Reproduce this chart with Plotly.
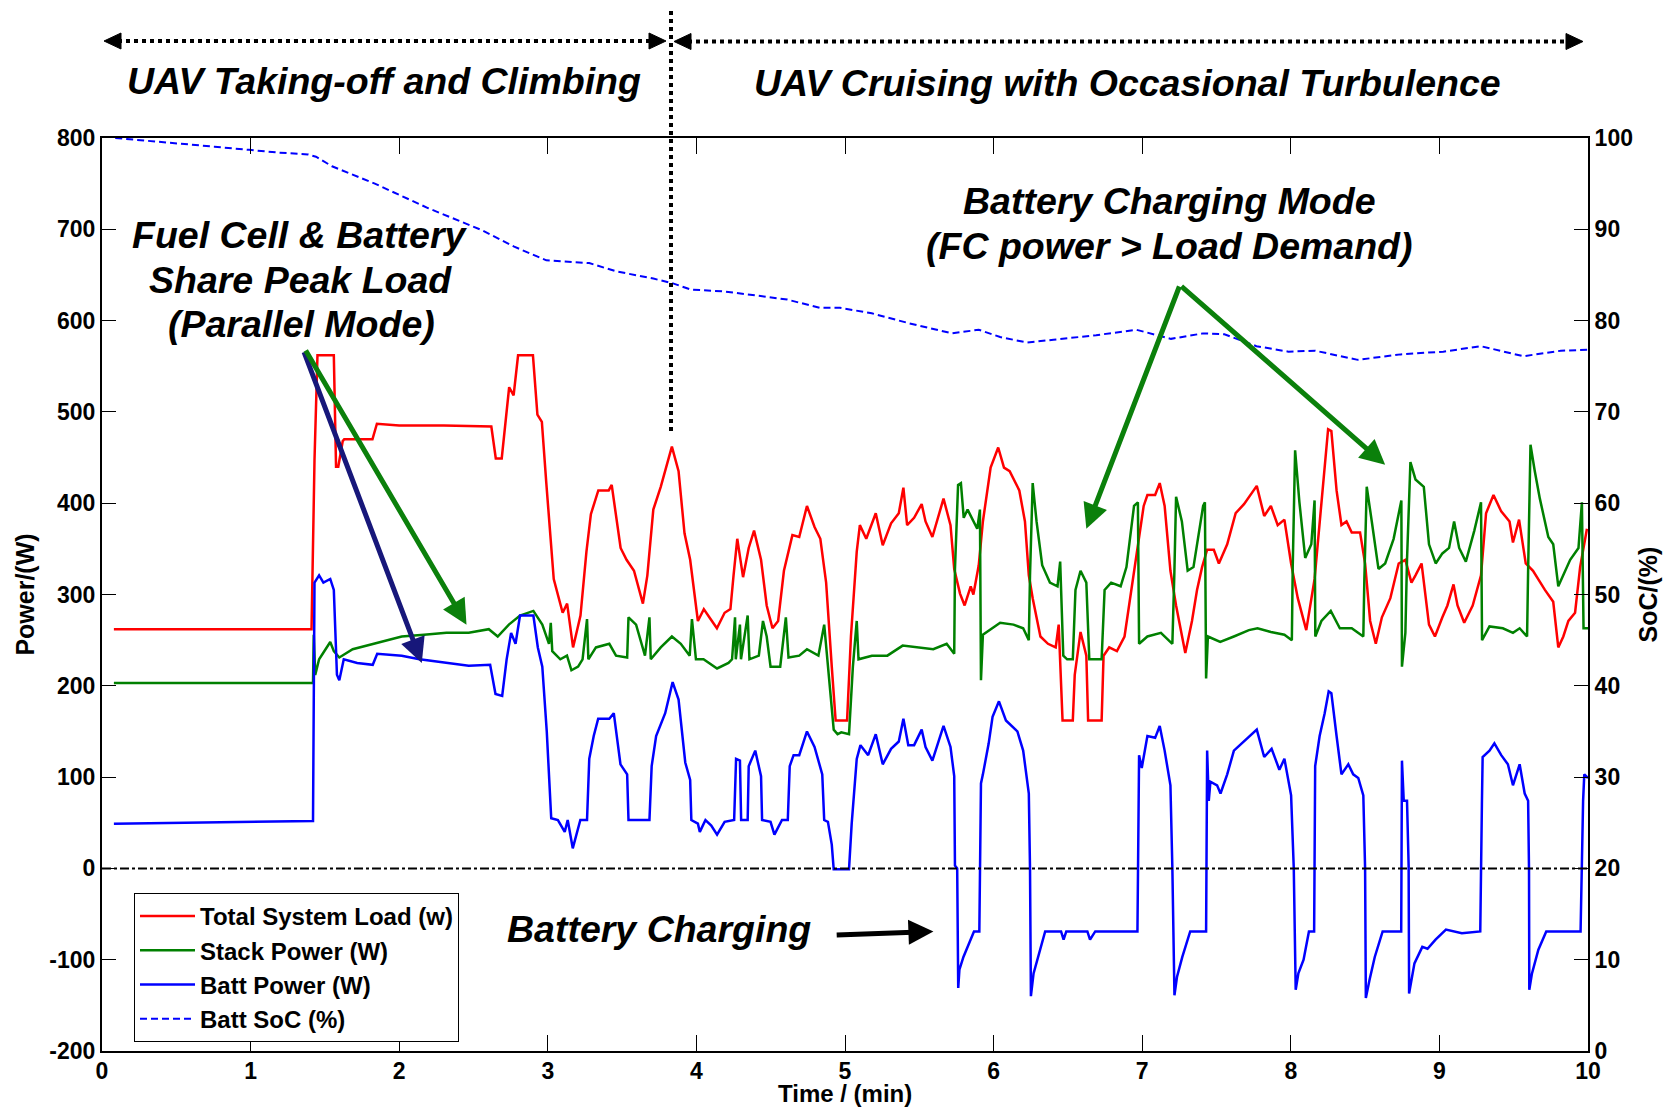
import plotly.graph_objects as go

# ---- data (time in min) ----
load_t = [0.08, 1.41, 1.43, 1.45, 1.56, 1.575, 1.59, 1.62, 1.63, 1.82, 1.85, 2.0, 2.3, 2.62, 2.65, 2.69, 2.74, 2.77,
          2.80, 2.90, 2.93, 2.96, 2.99, 3.04, 3.10, 3.13, 3.17, 3.22, 3.26, 3.29, 3.34, 3.41, 3.43, 3.49, 3.53, 3.58,
          3.64, 3.67, 3.71, 3.76, 3.835, 3.88, 3.92, 3.958, 4.01, 4.05, 4.087, 4.138, 4.19, 4.229, 4.25, 4.275, 4.314,
          4.352, 4.388, 4.435, 4.473, 4.512, 4.55, 4.589, 4.646, 4.692, 4.744, 4.795, 4.834, 4.873, 4.911, 4.937,
          5.014, 5.04, 5.079, 5.1, 5.143, 5.207, 5.254, 5.31, 5.362, 5.393, 5.418, 5.465, 5.516, 5.542, 5.588, 5.663,
          5.71, 5.735, 5.774, 5.805, 5.846, 5.864, 5.9, 5.928, 5.98, 6.031, 6.07, 6.108, 6.173, 6.211, 6.237, 6.263,
          6.315, 6.366, 6.418, 6.438, 6.464, 6.533, 6.546, 6.585, 6.624, 6.636, 6.727, 6.74, 6.778, 6.83, 6.881,
          6.933, 6.971, 7.01, 7.035, 7.087, 7.118, 7.151, 7.19, 7.228, 7.29, 7.335, 7.369, 7.403, 7.437, 7.482,
          7.516, 7.572, 7.629, 7.685, 7.771, 7.821, 7.866, 7.912, 7.957, 8.002, 8.047, 8.104, 8.16, 8.206, 8.251,
          8.273, 8.308, 8.341, 8.375, 8.41, 8.466, 8.5, 8.534, 8.572, 8.613, 8.67, 8.726, 8.771, 8.812, 8.839, 8.88,
          8.93, 8.97, 9.02, 9.054, 9.095, 9.122, 9.167, 9.224, 9.28, 9.314, 9.364, 9.416, 9.472, 9.495, 9.536,
          9.581, 9.63, 9.676, 9.71, 9.766, 9.8, 9.834, 9.868, 9.913, 9.947, 9.993]
load_w = [262, 262, 447, 562, 562, 440, 440, 468, 470, 470, 487, 485, 485, 484, 449, 449, 527, 518,
          562, 562, 497, 489, 422, 317, 280, 290, 242, 277, 347, 388, 414, 414, 420, 351, 338, 326,
          290, 321, 393, 418, 462, 435, 367, 338, 271, 284, 275, 263, 280, 284, 321, 361, 319,
          351, 370, 338, 288, 263, 271, 326, 365, 363, 397, 374, 361, 313, 221, 162,
          162, 254, 347, 376, 361, 389, 354, 378, 389, 417, 376, 384, 399, 380, 363, 405,
          376, 328, 301, 288, 309, 300, 332, 380, 439, 461, 439, 435, 414, 380, 321, 296,
          254, 246, 242, 267, 162, 162, 212, 259, 233, 162, 162, 233, 242, 238, 254,
          313, 355, 397, 409, 409, 422, 397, 326, 288, 236, 271, 305, 330, 349, 349,
          334, 355, 389, 399, 419, 386, 397, 376, 382, 334, 296, 261, 317, 401, 481,
          479, 414, 376, 380, 368, 368, 334, 271, 246, 275, 296, 334, 338, 313, 321, 334,
          267, 254, 275, 288, 311, 288, 269, 288, 321, 389, 409, 391, 380, 357, 382,
          334, 326, 313, 305, 292, 242, 254, 271, 280, 330, 372]

stack_t = [0.08, 1.42, 1.425, 1.435, 1.461, 1.536, 1.56, 1.597, 1.687, 1.867, 2.017, 2.167, 2.318, 2.468, 2.603,
           2.663, 2.738, 2.813, 2.903, 2.963, 3.008, 3.02, 3.03, 3.084, 3.129, 3.159, 3.204, 3.234, 3.264, 3.273,
           3.324, 3.414, 3.459, 3.534, 3.543, 3.594, 3.639, 3.654, 3.684, 3.693, 3.76, 3.835, 3.895, 3.955, 3.97,
           3.997, 4.048, 4.139, 4.216, 4.24, 4.26, 4.265, 4.293, 4.30, 4.345, 4.357, 4.42, 4.448, 4.473, 4.499,
           4.564, 4.602, 4.62, 4.692, 4.744, 4.821, 4.86, 4.885, 4.924, 4.95, 4.975, 5.027, 5.053, 5.079, 5.091,
           5.181, 5.285, 5.388, 5.491, 5.594, 5.684, 5.735, 5.74, 5.761, 5.78, 5.799, 5.825, 5.864, 5.89, 5.908,
           5.915, 5.928, 6.005, 6.044, 6.134, 6.199, 6.237, 6.245, 6.263, 6.289, 6.327, 6.379, 6.43, 6.448, 6.469,
           6.495, 6.533, 6.551, 6.585, 6.624, 6.644, 6.727, 6.747, 6.791, 6.855, 6.894, 6.945, 6.971, 6.979, 7.035,
           7.126, 7.203, 7.216, 7.228, 7.267, 7.306, 7.345, 7.41, 7.422, 7.43, 7.442, 7.525, 7.617, 7.718, 7.776,
           7.866, 7.957, 8.007, 8.013, 8.029, 8.058, 8.097, 8.138, 8.16, 8.165, 8.206, 8.269, 8.33, 8.41, 8.488,
           8.495, 8.511, 8.545, 8.59, 8.635, 8.692, 8.744, 8.748, 8.771, 8.782, 8.805, 8.839, 8.895, 8.93, 8.975,
           9.02, 9.065, 9.099, 9.133, 9.178, 9.235, 9.28, 9.287, 9.337, 9.427, 9.495, 9.54, 9.59, 9.597, 9.613,
           9.642, 9.676, 9.733, 9.766, 9.8, 9.845, 9.88, 9.936, 9.959, 9.97, 10.0]
stack_w = [203, 203, 256, 212, 229, 248, 238, 231, 240, 248, 254, 256, 258, 258, 262,
           254, 267, 277, 282, 267, 246, 269, 238, 229, 233, 217, 221, 229, 273, 229,
           242, 246, 233, 231, 275, 267, 242, 233, 275, 229, 242, 254, 246, 233, 273,
           229, 229, 219, 225, 229, 275, 229, 267, 229, 277, 229, 233, 271, 254, 221,
           221, 275, 231, 233, 240, 233, 267, 221, 152, 147, 149, 147, 221, 271, 229,
           233, 233, 244, 242, 240, 246, 235, 328, 420, 422, 384, 393, 380, 372, 393,
           206, 256, 265, 269, 267, 263, 250, 321, 422, 380, 332, 313, 309, 336, 233,
           229, 229, 305, 326, 313, 229, 229, 305, 313, 309, 330, 397, 401, 246, 254,
           258, 246, 321, 407, 380, 326, 330, 397, 401, 208, 254, 248, 254, 261, 263,
           259, 256, 250, 330, 458, 401, 340, 355, 403, 254, 271, 282, 263, 263, 254,
           317, 418, 380, 328, 334, 361, 403, 221, 258, 338, 445, 426, 418, 355, 334,
           345, 351, 380, 351, 336, 370, 401, 250, 265, 263, 258, 263, 254, 326, 464,
           435, 405, 363, 355, 309, 326, 338, 351, 401, 263, 263]

batt_t = [0.08, 1.42, 1.43, 1.461, 1.49, 1.536, 1.56, 1.581, 1.597, 1.627, 1.717, 1.822, 1.852, 2.017, 2.137,
          2.318, 2.468, 2.612, 2.648, 2.693, 2.723, 2.753, 2.783, 2.813, 2.903, 2.933, 2.963, 2.993, 3.023, 3.068,
          3.114, 3.134, 3.168, 3.219, 3.264, 3.279, 3.309, 3.339, 3.414, 3.444, 3.489, 3.534, 3.543, 3.684, 3.699,
          3.729, 3.79, 3.84, 3.88, 3.925, 3.958, 3.966, 4.01, 4.023, 4.061, 4.1, 4.139, 4.19, 4.254, 4.267, 4.293,
          4.301, 4.345, 4.352, 4.396, 4.435, 4.442, 4.499, 4.525, 4.576, 4.615, 4.628, 4.654, 4.692, 4.744, 4.795,
          4.847, 4.86, 4.885, 4.911, 4.924, 5.027, 5.045, 5.079, 5.104, 5.156, 5.207, 5.254, 5.31, 5.362, 5.393,
          5.426, 5.465, 5.516, 5.542, 5.588, 5.663, 5.71, 5.735, 5.74, 5.755, 5.762, 5.77, 5.797, 5.833, 5.868,
          5.904, 5.911, 5.915, 5.928, 5.967, 5.993, 6.036, 6.083, 6.16, 6.199, 6.237, 6.245, 6.251, 6.269, 6.312,
          6.347, 6.454, 6.471, 6.489, 6.631, 6.649, 6.684, 6.968, 6.975, 6.979, 6.997, 7.035, 7.087, 7.118, 7.151,
          7.19, 7.203, 7.217, 7.234, 7.27, 7.323, 7.43, 7.437, 7.448, 7.459, 7.504, 7.527, 7.572, 7.617, 7.685,
          7.771, 7.821, 7.871, 7.923, 7.957, 8.002, 8.02, 8.033, 8.051, 8.086, 8.122, 8.157, 8.164, 8.194, 8.228,
          8.255, 8.273, 8.308, 8.341, 8.387, 8.42, 8.454, 8.488, 8.5, 8.505, 8.53, 8.565, 8.618, 8.743, 8.748,
          8.76, 8.782, 8.793, 8.796, 8.832, 8.885, 8.92, 8.974, 9.044, 9.151, 9.275, 9.286, 9.291, 9.337, 9.37,
          9.416, 9.461, 9.495, 9.54, 9.574, 9.597, 9.603, 9.605, 9.623, 9.666, 9.719, 9.95, 9.967, 9.975, 10.0]
batt_w = [49, 52, 313, 321, 313, 317, 305, 212, 206, 229, 225, 223, 235, 233, 229,
          225, 222, 223, 191, 189, 229, 258, 246, 277, 277, 242, 221, 150, 55, 53,
          40, 53, 22, 53, 53, 120, 145, 164, 164, 170, 114, 103, 53, 53, 112,
          145, 170, 204, 185, 116, 97, 53, 49, 40, 53, 47, 37, 51, 53, 120, 118,
          53, 53, 112, 129, 101, 53, 51, 37, 53, 53, 112, 124, 124, 150, 133,
          103, 53, 51, 26, -1, -1, 49, 120, 135, 124, 147, 114, 131, 139, 164,
          135, 135, 152, 133, 118, 156, 133, 101, 3, 0, -131, -111, -97, -82, -69,
          -69, 70, 93, 103, 137, 166, 183, 162, 150, 129, 82, 0, -140, -115, -89,
          -69, -69, -78, -69, -69, -78, -69, -69, 74, 124, 110, 145, 143, 156, 129,
          91, 0, -139, -119, -97, -69, -69, 129, 74, 95, 91, 82, 103, 129, 139,
          152, 122, 131, 108, 120, 80, 0, -133, -115, -100, -69, -69, 112, 145, 170,
          194, 192, 145, 103, 114, 103, 99, 80, 0, -142, -122, -97, -69, -69, 118,
          74, 74, 3, -137, -104, -86, -88, -78, -67, -71, -69, 70, 122, 129, 137,
          124, 114, 91, 114, 82, 74, 0, -133, -115, -89, -69, -69, 74, 103, 99]

soc_t = [0.089, 0.395, 0.756, 0.99, 1.188, 1.386, 1.44, 1.548, 1.836, 2.197, 2.557, 2.774, 2.99, 3.279, 3.459,
         3.71, 3.837, 3.963, 4.18, 4.432, 4.612, 4.83, 4.966, 5.18, 5.433, 5.72, 5.9, 6.044, 6.224, 6.403, 6.69,
         6.96, 7.194, 7.409, 7.553, 7.769, 7.984, 8.164, 8.451, 8.739, 9.026, 9.278, 9.565, 9.817, 9.996]
soc_pct = [100, 99.6, 99.05, 98.7, 98.4, 98.2, 97.95, 96.9, 95.0, 92.3, 89.9, 88.1, 86.6, 86.3, 85.4,
           84.6, 84.1, 83.4, 83.2, 82.7, 82.3, 81.4, 81.4, 80.8, 79.7, 78.6, 79.0, 78.2, 77.6, 77.9, 78.4,
           79.0, 78.0, 78.6, 78.5, 77.2, 76.6, 76.7, 75.7, 76.3, 76.6, 77.2, 76.1, 76.7, 76.8]

power_ticks = list(range(-200, 801, 100))
soc_ticks = list(range(0, 101, 10))
time_ticks = list(range(0, 11))

# arrows: (tail t, tail W, tip t, tip W, colour)
arrows = [
    (1.356, 567, 2.152, 225, "#17177a"),
    (1.365, 569, 2.453, 267, "#0b800b"),
    (7.254, 639, 6.624, 372, "#0b800b"),
    (7.254, 639, 8.635, 442, "#0b800b"),
    (4.934, -73, 5.595, -69, "black"),
]

# ---- geometry: page has an 8px body margin, so the figure is shrunk by 16px ----
OFF = 8
W, H = 1677 - 2 * OFF, 1116 - 2 * OFF
PL, PR, PT, PB = 102, 1588, 138, 1051          # plot area in screen pixels
def px(x): return (x - PL) / (PR - PL)
def py(y): return (PB - y) / (PB - PT)

FONT = "Liberation Sans, Arial, sans-serif"
LW = 2.5

fig = go.Figure()
fig.add_trace(go.Scatter(x=load_t, y=load_w, mode="lines", name="Total System Load (w)",
                         line=dict(color="#ff0000", width=LW)))
fig.add_trace(go.Scatter(x=stack_t, y=stack_w, mode="lines", name="Stack Power (W)",
                         line=dict(color="#008000", width=LW)))
fig.add_trace(go.Scatter(x=batt_t, y=batt_w, mode="lines", name="Batt Power (W)",
                         line=dict(color="#0000ff", width=LW)))
fig.add_trace(go.Scatter(x=soc_t, y=soc_pct, mode="lines", name="Batt SoC (%)", yaxis="y2",
                         line=dict(color="#0000ff", width=2, dash="7px,4px")))

# zero reference line
fig.add_shape(type="line", xref="x", yref="y", x0=0, x1=10, y0=0, y1=0,
              line=dict(color="black", width=2, dash="dashdot"), layer="above")

# top phase arrows + separator
dot = dict(color="black", width=4, dash="dot")
fig.add_shape(type="line", xref="paper", yref="paper", x0=px(118), x1=px(652), y0=py(41), y1=py(41), line=dot)
fig.add_shape(type="line", xref="paper", yref="paper", x0=px(688), x1=px(1570), y0=py(41.5), y1=py(41.5), line=dot)
fig.add_shape(type="line", xref="paper", yref="paper", x0=px(671), x1=px(671), y0=py(431), y1=py(10), line=dot)

def head(tip, base, yc):
    return (f"M{px(tip)},{py(yc)} L{px(base)},{py(yc - 8)} L{px(base)},{py(yc + 8)} Z")

for tip, base, yc in [(104, 121, 41), (666, 649, 41), (674, 691, 41.5), (1583, 1566, 41.5)]:
    fig.add_shape(type="path", xref="paper", yref="paper", path=head(tip, base, yc),
                  fillcolor="black", line=dict(color="black", width=1))

for t0, w0, t1, w1, c in arrows:
    fig.add_annotation(x=t1, y=w1, ax=t0, ay=w0, xref="x", yref="y", axref="x", ayref="y",
                       text="", showarrow=True, arrowhead=2, arrowsize=1, arrowwidth=5,
                       arrowcolor=c, standoff=0)

bi = dict(family=FONT, size=37.5, color="black", weight="bold", style="italic")
labels = [
    ("UAV Taking-off and Climbing", 384, 81),
    ("UAV Cruising with Occasional Turbulence", 1127, 83),
    ("Fuel Cell & Battery", 300, 235),
    ("Share Peak Load", 300, 280),
    ("(Parallel Mode)", 301, 324),
    ("Battery Charging Mode", 1169, 201),
    ("(FC power > Load Demand)", 1169, 246),
    ("Battery Charging", 659, 929),
]
for txt, x, y in labels:
    fig.add_annotation(x=px(x), y=py(y), xref="paper", yref="paper", text=txt, showarrow=False,
                       xanchor="center", yanchor="middle", font=bi)

tickf = dict(family=FONT, size=23, color="black", weight="bold")
titlef = dict(family=FONT, size=25, color="black", weight="bold")

# x-axis title as an annotation so it can sit lower than plotly's margin-constrained title
fig.add_annotation(x=px(845), y=py(1093), xref="paper", yref="paper", text="Time / (min)",
                   showarrow=False, xanchor="center", yanchor="middle",
                   font=dict(family=FONT, size=24, color="black", weight="bold"))

axis_common = dict(ticks="inside", tickwidth=1, tickcolor="black", showline=True, linecolor="black",
                   linewidth=2, showgrid=False, zeroline=False, tickfont=tickf, automargin=False)

fig.update_layout(
    template="none",
    width=W, height=H,
    margin=dict(l=PL - OFF, r=W - (PR - OFF), t=PT - OFF, b=H - (PB - OFF)),
    paper_bgcolor="white", plot_bgcolor="white",
    font=dict(family=FONT, color="black"),
    xaxis=dict(range=[0, 10], tickvals=time_ticks, ticklen=16, mirror="ticks",
               ticklabelstandoff=-2, **axis_common),
    yaxis=dict(range=[-200, 800], tickvals=power_ticks, ticktext=[str(v) for v in power_ticks],
               ticklen=14, title=dict(text="Power/(W)", font=titlef, standoff=8), **axis_common),
    yaxis2=dict(range=[0, 100], tickvals=soc_ticks, overlaying="y", side="right", ticklen=14,
                title=dict(text="SoC/(%)", font=titlef, standoff=8), **axis_common),
    legend=dict(x=px(134), y=py(893), xanchor="left", yanchor="top", bgcolor="white",
                bordercolor="black", borderwidth=1, itemwidth=55,
                font=dict(family=FONT, size=24, color="black", weight="bold")),
    showlegend=True,
)

fig.write_html("out.html")
